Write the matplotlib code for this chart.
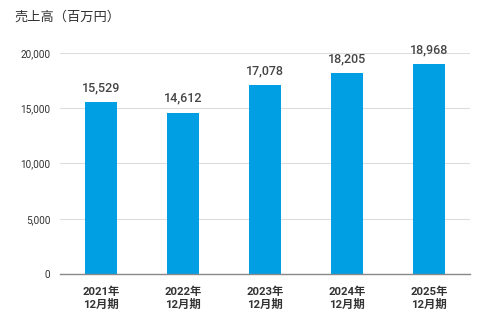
import matplotlib
matplotlib.use("Agg")
import matplotlib.pyplot as plt

plt.rcParams['font.family'] = ['Roboto', 'Noto Sans CJK JP', 'DejaVu Sans']

categories = ["2021年\n12月期", "2022年\n12月期", "2023年\n12月期", "2024年\n12月期", "2025年\n12月期"]
values = [15529, 14612, 17078, 18205, 18968]
yticks = [0, 5000, 10000, 15000, 20000]

fig = plt.figure(figsize=(5, 3.25), dpi=100)
ax = fig.add_axes([0.12, 0.157, 0.82, 0.68])
x = range(len(categories))
ax.bar(x, values, width=0.39, color="#009FE3", zorder=3)
for xi, v in zip(x, values):
    ax.text(xi, v + 700, f"{v:,}", ha="center", va="bottom", fontsize=9, color="#444444",
            fontweight="medium", zorder=5)
ax.set_xlim(-0.5, 4.5)
ax.set_ylim(0, 20000)
ax.set_yticks(yticks)
ax.set_yticklabels([f"{t:,}" for t in yticks], fontsize=7.2, color="#333333")
ax.set_xticks(list(x))
ax.set_xticklabels(categories, fontsize=8.2, fontweight="bold", color="#333333", linespacing=1.25)
ax.grid(axis="y", color="#dddddd", linewidth=0.8, zorder=0)
ax.set_axisbelow(True)
for s in ["top", "right", "left"]:
    ax.spines[s].set_visible(False)
ax.spines["bottom"].set_color("#888888")
ax.spines["bottom"].set_linewidth(1.0)
ax.spines["bottom"].set_zorder(4)
ax.tick_params(axis="y", length=0, pad=7)
ax.tick_params(axis="x", length=0, pad=9)
fig.text(0.028, 0.948, "売上高（百万円）", fontsize=9.5, color="#333333", va="center", ha="left",
         family=['Noto Sans CJK JP', 'DejaVu Sans'])
fig.savefig("out.png", dpi=100)
